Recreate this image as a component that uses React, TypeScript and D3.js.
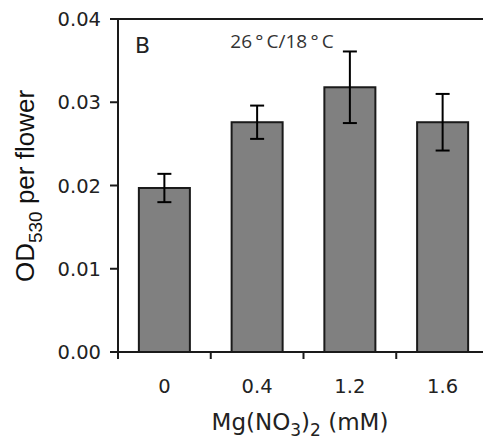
import React from 'react';
import * as d3 from 'd3';

// Mg(NO3)2 treatment, anthocyanin OD530 per flower at 26°C/18°C
const concentrations = ['0', '0.4', '1.2', '1.6'];
const meanOD = [0.0197, 0.0276, 0.0318, 0.0276];
const errOD = [0.0017, 0.0020, 0.0043, 0.0034];
const yTicks = [0, 0.01, 0.02, 0.03, 0.04];

const W = 483;
const H = 443;
const left = 118;
const right = 489;
const top = 19;
const bottom = 352;

const App = () => {
  const x = d3.scaleBand<string>()
    .domain(concentrations)
    .range([left, right])
    .paddingInner(0.45)
    .paddingOuter(0.225);

  const y = d3.scaleLinear()
    .domain([0, 0.04])
    .range([bottom, top]);

  const fmt = d3.format('.2f');
  const step = x.step();
  const bounds = d3.range(concentrations.length + 1).map(i => left + i * step);
  const ink = '#1a1a1a';

  return (
    <svg width={W} height={H} style={{ position: 'absolute', left: 0, top: 0, background: '#fff' }}>
      {/* frame */}
      <line x1={left} x2={W} y1={top} y2={top} stroke={ink} strokeWidth={2} />
      <line x1={left} x2={left} y1={top - 1} y2={bottom} stroke={ink} strokeWidth={2} />
      <line x1={left - 1} x2={W} y1={bottom} y2={bottom} stroke={ink} strokeWidth={2} />

      {/* y axis */}
      {yTicks.map(t => (
        <g key={t}>
          <line x1={left - 8} x2={left} y1={y(t)} y2={y(t)} stroke={ink} strokeWidth={2} />
          <text x={101} y={y(t)} dy="0.36em" textAnchor="end"
            fontFamily="DejaVu Sans" fontSize={19.5} fill="#222">{fmt(t)}</text>
        </g>
      ))}

      {/* x axis ticks at category boundaries */}
      {bounds.map((b, i) => (
        <line key={i} x1={b} x2={b} y1={bottom} y2={bottom + 7} stroke={ink} strokeWidth={2} />
      ))}
      {concentrations.map(c => (
        <text key={c} x={(x(c) ?? 0) + x.bandwidth() / 2} y={393} textAnchor="middle"
          fontFamily="DejaVu Sans" fontSize={19.5} fill="#222">{c}</text>
      ))}

      {/* bars */}
      {concentrations.map((c, i) => {
        const bx = x(c) ?? 0;
        const cx = bx + x.bandwidth() / 2;
        return (
          <g key={c}>
            <rect x={bx} y={y(meanOD[i])} width={x.bandwidth()} height={bottom - y(meanOD[i])}
              fill="#808080" stroke={ink} strokeWidth={2} />
            <line x1={cx} x2={cx} y1={y(meanOD[i] + errOD[i])} y2={y(meanOD[i] - errOD[i])}
              stroke="#000" strokeWidth={2} />
            <line x1={cx - 7} x2={cx + 7} y1={y(meanOD[i] + errOD[i])} y2={y(meanOD[i] + errOD[i])}
              stroke="#000" strokeWidth={2} />
            <line x1={cx - 7} x2={cx + 7} y1={y(meanOD[i] - errOD[i])} y2={y(meanOD[i] - errOD[i])}
              stroke="#000" strokeWidth={2} />
          </g>
        );
      })}

      {/* annotations */}
      <text x={135} y={53} fontFamily="DejaVu Sans" fontSize={22} fill="#222">B</text>
      <text x={282} y={48} textAnchor="middle" fontFamily="Open Sans" fontSize={19} fill="#333">
        26{'\u2009'}°{'\u2009'}C/18{'\u2009'}°{'\u2009'}C
      </text>

      {/* axis titles */}
      <text transform="translate(34,186) rotate(-90)" textAnchor="middle"
        fontFamily="Liberation Sans" fontSize={26} fill="#111">
        OD<tspan fontSize={19} dy={8}>530</tspan><tspan dy={-8}> per flower</tspan>
      </text>
      <text x={300} y={430} textAnchor="middle" fontFamily="DejaVu Sans" fontSize={23} fill="#222">
        Mg(NO<tspan fontSize={17} dy={6}>3</tspan><tspan dy={-6}>)</tspan><tspan fontSize={17} dy={6}>2</tspan><tspan dy={-6}> (mM)</tspan>
      </text>
    </svg>
  );
};

export default App;
